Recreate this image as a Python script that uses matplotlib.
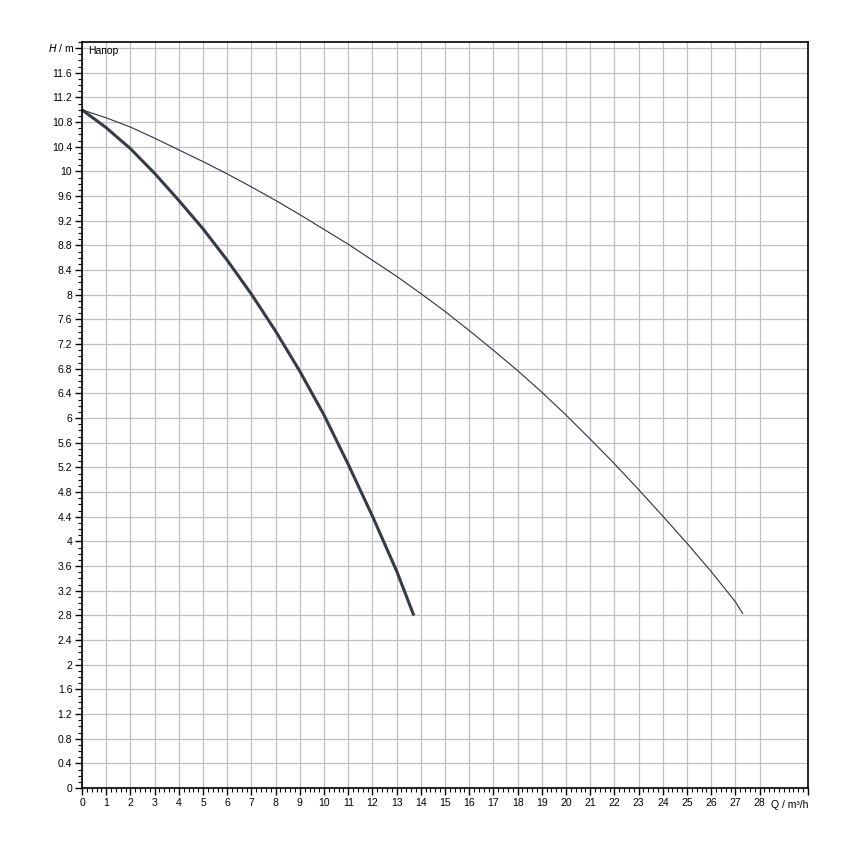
import matplotlib
matplotlib.use("Agg")
import matplotlib.pyplot as plt
from matplotlib.ticker import MultipleLocator

plt.rcParams['font.family'] = ['Liberation Sans', 'DejaVu Sans']

# Data (Q in m³/h, H in m)
q_thick = [0, 1, 2, 3, 4, 5, 6, 7, 8, 9, 10, 11, 12, 13, 13.69]
h_thick = [11.0, 10.71, 10.37, 9.97, 9.53, 9.07, 8.56, 8.01, 7.41, 6.76, 6.05, 5.25, 4.41, 3.52, 2.82]

q_thin = [0, 1, 2, 3, 4, 5, 6, 7, 8, 9, 10, 11, 12, 13, 14, 15, 16, 17, 18, 19, 20,
          21, 22, 23, 24, 25, 26, 27, 27.3]
h_thin = [11.0, 10.87, 10.72, 10.54, 10.35, 10.16, 9.96, 9.75, 9.53, 9.30, 9.06, 8.82,
          8.56, 8.30, 8.02, 7.73, 7.42, 7.10, 6.77, 6.42, 6.05, 5.66, 5.26, 4.84, 4.41,
          3.97, 3.51, 3.02, 2.83]

x_ticks = list(range(0, 29))
y_ticks = [round(0.4 * i, 1) for i in range(30)]

fig = plt.figure(figsize=(8.5, 8.5), dpi=100)
ax = fig.add_axes([0.0965, 0.0729, 0.8541, 0.8777])

ax.plot(q_thin, h_thin, color='#2b3140', lw=0.8)
ax.plot(q_thick, h_thick, color='#353b47', lw=2.2)

ax.set_xlim(0, 30)
ax.set_ylim(0, 12.1)

ax.set_xticks(x_ticks + [30])
ax.set_xticklabels([str(v) for v in x_ticks] + [''])
ax.set_yticks(y_ticks + [12])
ax.set_yticklabels([('%g' % v) for v in y_ticks] + [''])
ax.xaxis.set_minor_locator(MultipleLocator(0.2))
ax.yaxis.set_minor_locator(MultipleLocator(0.1))

ax.grid(True, which='major', color='#c0c0c0', lw=0.9)
ax.tick_params(which='major', direction='out', length=5, width=1, labelsize=7.5, pad=2, color='black')
ax.tick_params(which='minor', direction='out', length=3, width=0.8, color='black')
for s in ax.spines.values():
    s.set_linewidth(1.2)
    s.set_color('black')

ax.text(-0.3, 12, '$H$ / m', ha='right', va='center', fontsize=7.5, clip_on=False)
ax.text(30, -0.28, 'Q / m³/h', ha='right', va='center', fontsize=7.5, clip_on=False)
ax.text(0.25, 11.95, 'Напор', ha='left', va='center', fontsize=7.5)

fig.savefig('out.png', dpi=100)
